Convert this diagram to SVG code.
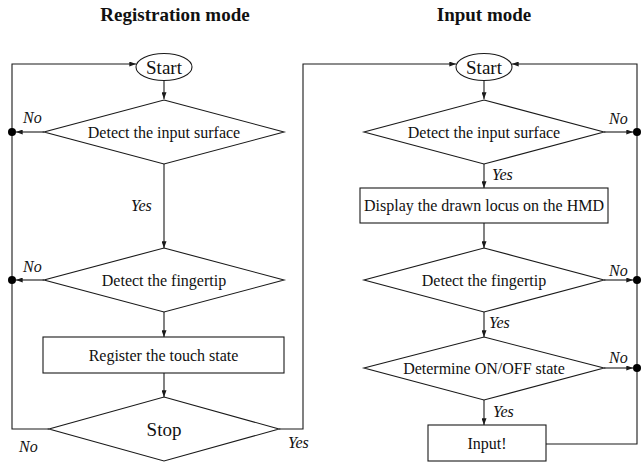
<svg xmlns="http://www.w3.org/2000/svg" width="642" height="462" viewBox="0 0 642 462">
<style>
.s{fill:#fff;stroke:#1a1a1a;stroke-width:1.1}
.c{fill:none;stroke:#1a1a1a;stroke-width:1.1}
.t{font-family:"Liberation Serif","Times New Roman",serif;font-size:16px;fill:#111;text-anchor:middle}
.big{font-size:19px}
.h{font-family:"Liberation Serif","Times New Roman",serif;font-size:19px;font-weight:bold;fill:#111;text-anchor:middle}
.l{font-family:"Liberation Serif","Times New Roman",serif;font-size:16px;font-style:italic;fill:#111}
.d{fill:#000}
</style>
<defs>
<marker id="a" viewBox="0 0 8 6" refX="8" refY="3" markerWidth="7" markerHeight="5" markerUnits="userSpaceOnUse" orient="auto">
<path d="M0,0 L8,3 L0,6 z" fill="#1a1a1a"/>
</marker>
</defs>
<text class="h" x="175" y="21">Registration mode</text>
<text class="h" x="484" y="21">Input mode</text>

<g id="connectors">
<path class="c" d="M49,429 H12 V64 H136" marker-end="url(#a)"/>
<path class="c" d="M164,80 V99" marker-end="url(#a)"/>
<path class="c" d="M44,132 H16" marker-end="url(#a)"/>
<path class="c" d="M164,164 V248" marker-end="url(#a)"/>
<path class="c" d="M44,280 H16" marker-end="url(#a)"/>
<path class="c" d="M164,312 V337" marker-end="url(#a)"/>
<path class="c" d="M164,373 V397" marker-end="url(#a)"/>
<path class="c" d="M279,429 H303 V64 H456" marker-end="url(#a)"/>
<circle class="d" cx="12" cy="132" r="4"/>
<circle class="d" cx="12" cy="280" r="4"/>

<path class="c" d="M484,80 V99" marker-end="url(#a)"/>
<path class="c" d="M604,132 H633" marker-end="url(#a)"/>
<path class="c" d="M484,164 V188" marker-end="url(#a)"/>
<path class="c" d="M484,223 V248" marker-end="url(#a)"/>
<path class="c" d="M604,280 H633" marker-end="url(#a)"/>
<path class="c" d="M484,312 V337" marker-end="url(#a)"/>
<path class="c" d="M604,368 H633" marker-end="url(#a)"/>
<path class="c" d="M484,400 V425" marker-end="url(#a)"/>
<path class="c" d="M546,444 H637 V64 H512" marker-end="url(#a)"/>
<circle class="d" cx="637" cy="132" r="4"/>
<circle class="d" cx="637" cy="280" r="4"/>
<circle class="d" cx="637" cy="368" r="4"/>

<text class="l" x="23" y="123">No</text>
<text class="l" x="131" y="211">Yes</text>
<text class="l" x="23" y="272">No</text>
<text class="l" x="19" y="452">No</text>
<text class="l" x="288" y="448">Yes</text>

<text class="l" x="609" y="124">No</text>
<text class="l" x="492" y="180">Yes</text>
<text class="l" x="609" y="276">No</text>
<text class="l" x="489" y="328">Yes</text>
<text class="l" x="609" y="363">No</text>
<text class="l" x="493" y="417">Yes</text>
</g>

<g id="reg-start">
<ellipse class="s" cx="164" cy="67" rx="28" ry="13.5"/>
<text class="t big" x="164" y="74">Start</text>
</g>
<g id="reg-detect-surface">
<polygon class="s" points="164,100 284,132 164,164 44,132"/>
<text class="t" x="164" y="137.5">Detect the input surface</text>
</g>
<g id="reg-detect-fingertip">
<polygon class="s" points="164,248 284,280 164,312 44,280"/>
<text class="t" x="164" y="285.5">Detect the fingertip</text>
</g>
<g id="reg-register">
<rect class="s" x="43" y="337" width="241" height="36"/>
<text class="t" x="163.5" y="360.5">Register the touch state</text>
</g>
<g id="reg-stop">
<polygon class="s" points="164,397 279,429 164,461 49,429"/>
<text class="t big" x="164" y="435.5">Stop</text>
</g>

<g id="in-start">
<ellipse class="s" cx="484" cy="67" rx="28" ry="13.5"/>
<text class="t big" x="484" y="74">Start</text>
</g>
<g id="in-detect-surface">
<polygon class="s" points="484,100 604,132 484,164 364,132"/>
<text class="t" x="484" y="137.5">Detect the input surface</text>
</g>
<g id="in-display">
<rect class="s" x="360" y="188" width="248" height="35"/>
<text class="t" x="484" y="211">Display the drawn locus on the HMD</text>
</g>
<g id="in-detect-fingertip">
<polygon class="s" points="484,248 604,280 484,312 364,280"/>
<text class="t" x="484" y="285.5">Detect the fingertip</text>
</g>
<g id="in-onoff">
<polygon class="s" points="484,337 604,368 484,400 364,368"/>
<text class="t" x="484" y="373.5">Determine ON/OFF state</text>
</g>
<g id="in-input">
<rect class="s" x="428" y="425" width="118" height="36"/>
<text class="t" x="487" y="448.5">Input!</text>
</g>
</svg>
